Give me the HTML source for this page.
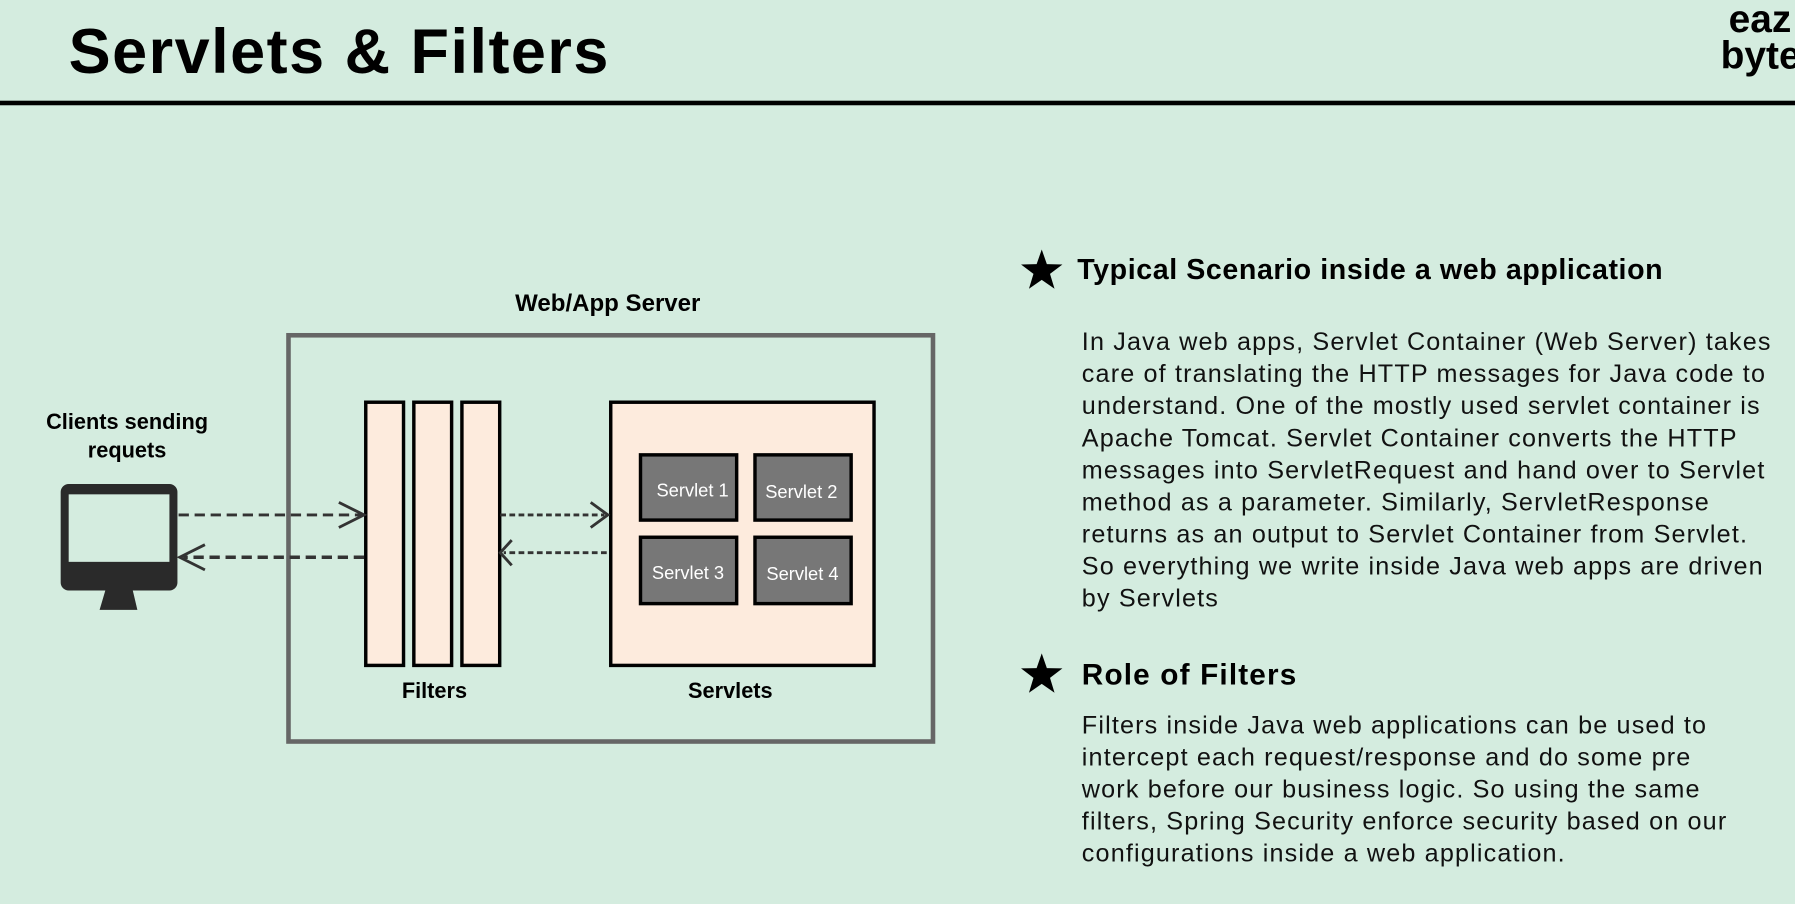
<!DOCTYPE html>
<html><head><meta charset="utf-8"><style>
html,body{margin:0;padding:0;background:#d4ecdf;overflow:hidden;}
#w{position:absolute;left:0;top:0;width:1568px;height:790px;transform:scale(1.14477,1.14430);transform-origin:0 0;font-family:"Liberation Sans",sans-serif;color:#000;}
.a{position:absolute;white-space:nowrap;}
.b{font-weight:bold;}
.p{position:absolute;left:945px;font-size:22px;letter-spacing:1px;line-height:28px;white-space:nowrap;color:#111;}
</style></head><body><div id="w">
<div class="a b" style="left:60px;top:10px;font-size:55px;line-height:70px;letter-spacing:1.3px;">Servlets &amp; Filters</div>
<div class="a b" style="left:1510px;top:0px;font-size:34px;line-height:34px;">eaz</div>
<div class="a b" style="left:1503px;top:32px;font-size:34px;line-height:34px;">byte</div>
<div class="a" style="left:0;top:88px;width:1568px;height:4px;background:#000;"></div>

<svg class="a" style="left:0;top:0" width="1568" height="790">
<rect x="252" y="293" width="563" height="355" fill="none" stroke="#666" stroke-width="4"/>
<g fill="#fdebdd" stroke="#000" stroke-width="3">
<rect x="319.5" y="351.5" width="33" height="230"/>
<rect x="361.5" y="351.5" width="33" height="230"/>
<rect x="403.5" y="351.5" width="33" height="230"/>
<rect x="533.5" y="351.5" width="230" height="230"/>
</g>
<g fill="#777" stroke="#000" stroke-width="3">
<rect x="559.5" y="397.5" width="84" height="57"/>
<rect x="659.5" y="397.5" width="84" height="57"/>
<rect x="559.5" y="469.5" width="84" height="58"/>
<rect x="659.5" y="469.5" width="84" height="58"/>
</g>
<g fill="#fff" font-size="16" font-family="Liberation Sans,sans-serif" text-anchor="middle">
<text x="605" y="434">Servlet 1</text><text x="700" y="435">Servlet 2</text>
<text x="601" y="506">Servlet 3</text><text x="701" y="507">Servlet 4</text>
</g>
<rect x="53" y="423" width="102" height="93" rx="7" fill="#2a2a2a"/>
<rect x="60" y="432" width="88" height="59" fill="#d4ecdf"/>
<path d="M92 516 L116 516 L120 533 L87 533 Z" fill="#2a2a2a"/>
<g stroke="#333" stroke-width="2.5" fill="none">
<line x1="156" y1="450" x2="316" y2="450" stroke-dasharray="9,5"/>
<polyline points="296,439 318,450 296,461"/>
<line x1="318" y1="487" x2="160" y2="487" stroke-dasharray="9,5" stroke-width="3"/>
<polyline points="179,476 157,487 179,498"/>
<line x1="437" y1="450" x2="528" y2="450" stroke-dasharray="5,3"/>
<polyline points="516,439 531,450 516,461"/>
<line x1="530" y1="483" x2="440" y2="483" stroke-dasharray="5,3"/>
<polyline points="447,472 437,483 447,494"/>
</g>
<g fill="#000">
<path transform="translate(910,237) scale(19)" d="M0,-1 L0.235,-0.324 L0.951,-0.309 L0.38,0.124 L0.588,0.809 L0,0.4 L-0.588,0.809 L-0.38,0.124 L-0.951,-0.309 L-0.235,-0.324 Z"/>
<path transform="translate(910,590) scale(19)" d="M0,-1 L0.235,-0.324 L0.951,-0.309 L0.38,0.124 L0.588,0.809 L0,0.4 L-0.588,0.809 L-0.38,0.124 L-0.951,-0.309 L-0.235,-0.324 Z"/>
</g>
</svg>

<div class="a b" style="left:450px;top:254px;font-size:21px;">Web/App Server</div>
<div class="a b" style="left:0;width:222px;text-align:center;top:357px;font-size:19px;line-height:25px;">Clients sending<br>requets</div>
<div class="a b" style="left:351px;top:594px;font-size:19px;">Filters</div>
<div class="a b" style="left:601px;top:594px;font-size:19px;">Servlets</div>

<div class="a b" style="left:941px;top:222px;font-size:25px;letter-spacing:0.5px;">Typical Scenario inside a web application</div>
<div class="p" style="top:285px;">In Java web apps, Servlet Container (Web Server) takes<br>care of translating the HTTP messages for Java code to<br>understand. One of the mostly used servlet container is<br>Apache Tomcat. Servlet Container converts the HTTP<br>messages into ServletRequest and hand over to Servlet<br>method as a parameter. Similarly, ServletResponse<br>returns as an output to Servlet Container from Servlet.<br>So everything we write inside Java web apps are driven<br>by Servlets</div>
<div class="a b" style="left:945px;top:574px;font-size:26px;letter-spacing:1px;">Role of Filters</div>
<div class="p" style="top:620px;">Filters inside Java web applications can be used to<br>intercept each request/response and do some pre<br>work before our business logic. So using the same<br>filters, Spring Security enforce security based on our<br>configurations inside a web application.</div>
</div></body></html>
